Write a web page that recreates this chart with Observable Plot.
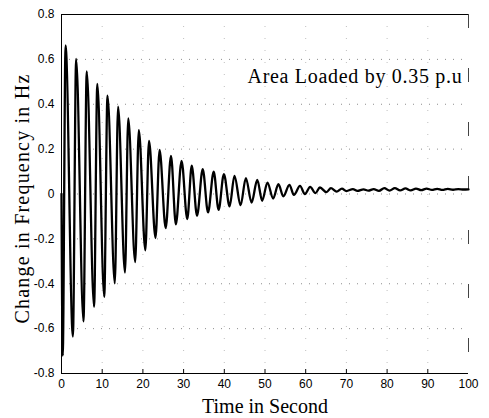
<!DOCTYPE html>
<html>
<head>
<meta charset="utf-8">
<script src="https://cdn.jsdelivr.net/npm/d3@7"></script>
<script src="https://cdn.jsdelivr.net/npm/@observablehq/plot@0.6"></script>
<style>
  html, body { margin: 0; padding: 0; background: #fff; }
</style>
</head>
<body>
<div id="chart"></div>
<script>
// Extrema (peaks / troughs) of the damped frequency deviation
const timeSec = [0, 0.3, 1.0, 2.8, 3.6, 5.4, 6.2, 8.0, 8.8, 10.5, 11.3, 13.1, 13.9, 15.6, 16.4, 18.1, 19.0, 20.6, 21.5, 23.1, 24.1,
  25.6, 26.9, 28.1, 29.5, 30.9, 32.0, 33.3, 34.7, 36.0, 37.4, 38.6, 39.9, 41.3, 42.5, 44.0, 45.3, 46.7, 48.1, 49.3, 50.6,
  52.0, 53.3, 54.5, 56.0, 57.1, 58.6, 59.8, 61.1, 62.4, 63.5, 65.1, 66.2, 67.6, 68.9, 70.0, 71.6, 72.7, 74.2, 75.4, 76.7,
  78.0, 79.3, 80.6, 81.9, 83.2, 84.5, 85.8, 87.1, 88.4, 89.7, 91.0, 92.3, 93.6, 94.9, 96.2, 97.5, 98.8, 100];
const deltaF = [0, -0.72, 0.662, -0.635, 0.602, -0.568, 0.546, -0.503, 0.491, -0.458, 0.438, -0.398, 0.389, -0.35, 0.337, -0.303, 0.285, -0.251, 0.237, -0.196, 0.196,
  -0.152, 0.170, -0.135, 0.148, -0.112, 0.126, -0.097, 0.111, -0.082, 0.100, -0.071, 0.089, -0.055, 0.081, -0.05, 0.071, -0.038, 0.063, -0.030, 0.051,
  -0.020, 0.044, -0.010, 0.041, -0.004, 0.036, 0.000, 0.032, 0.004, 0.029, 0.008, 0.026, 0.011, 0.024, 0.013, 0.022, 0.014, 0.021, 0.015, 0.022,
  0.014, 0.026, 0.015, 0.026, 0.016, 0.025, 0.016, 0.024, 0.017, 0.024, 0.018, 0.023, 0.018, 0.023, 0.019, 0.022, 0.020, 0.021];

const xTicks = [0, 10, 20, 30, 40, 50, 60, 70, 80, 90, 100];
const yTicks = [-0.8, -0.6, -0.4, -0.2, 0, 0.2, 0.4, 0.6, 0.8];

const xLabel = "Time in Second";
const yLabel = "Change in Frequency in Hz";
const note = "Area Loaded by 0.35 p.u";

const data = timeSec.map((t, i) => ({t, f: deltaF[i]}));
const innerX = xTicks.filter(d => d > 0 && d < 100);
const innerY = yTicks.filter(d => Math.abs(d) < 0.8);
const fmtY = d => Math.abs(d) < 1e-9 ? "0" : d.toFixed(1);
const serif = "'Liberation Serif', 'Times New Roman', serif";

const chart = Plot.plot({
  width: 489,
  height: 418,
  marginLeft: 61,
  marginRight: 21,
  marginTop: 14,
  marginBottom: 45,
  x: {domain: [0, 100]},
  y: {domain: [-0.8, 0.8]},
  style: {fontFamily: "'Liberation Sans', Arial, sans-serif", fontSize: "12px", background: "#fff", color: "#000"},
  marks: [
    Plot.gridY(innerY, {stroke: "#000", strokeOpacity: 0.45, strokeDasharray: "1,7"}),
    Plot.gridX(innerX, {stroke: "#000", strokeOpacity: 0.25, strokeDasharray: "1,11"}),
    Plot.ruleY([0.8], {stroke: "#000", strokeWidth: 1}),
    Plot.ruleY([-0.8], {stroke: "#000", strokeWidth: 1.2}),
    Plot.ruleX([0], {stroke: "#000", strokeWidth: 1}),
    Plot.ruleX([100], {stroke: "#444", strokeWidth: 1, strokeDasharray: "14,40"}),
    Plot.tickX(innerX, {x: d => d, insetTop: 355, stroke: "#000"}),
    Plot.line(data, {x: "t", y: "f", curve: "monotone-x", stroke: "#000", strokeWidth: 2.3}),
    Plot.axisX({ticks: xTicks, tickSize: 0, tickPadding: 6, tickFormat: d => String(d), label: null}),
    Plot.axisY({ticks: yTicks, tickSize: 0, tickPadding: 7, tickFormat: fmtY, label: null}),
    Plot.text([xLabel], {frameAnchor: "bottom", lineAnchor: "bottom", dy: 39, fontSize: 20, fontFamily: serif}),
    Plot.text([yLabel], {frameAnchor: "left", textAnchor: "middle", rotate: -90, lineAnchor: "bottom", dx: -33, dy: 4.5, fontSize: 20, fontFamily: serif}),
    Plot.text([note], {frameAnchor: "top-left", textAnchor: "start", lineAnchor: "bottom", dx: 186, dy: 68, fontSize: 20, fontFamily: serif})
  ]
});

document.getElementById("chart").appendChild(chart);

// serif labels, widened a little as on the reference
const spacing = {[xLabel]: "0px", [yLabel]: "1.2px", [note]: "0.7px"};
d3.select(chart).selectAll("text").each(function () {
  const s = spacing[this.textContent];
  if (s !== undefined) {
    this.style.letterSpacing = s;
    this.style.fontFamily = serif;
  }
});
</script>
</body>
</html>
